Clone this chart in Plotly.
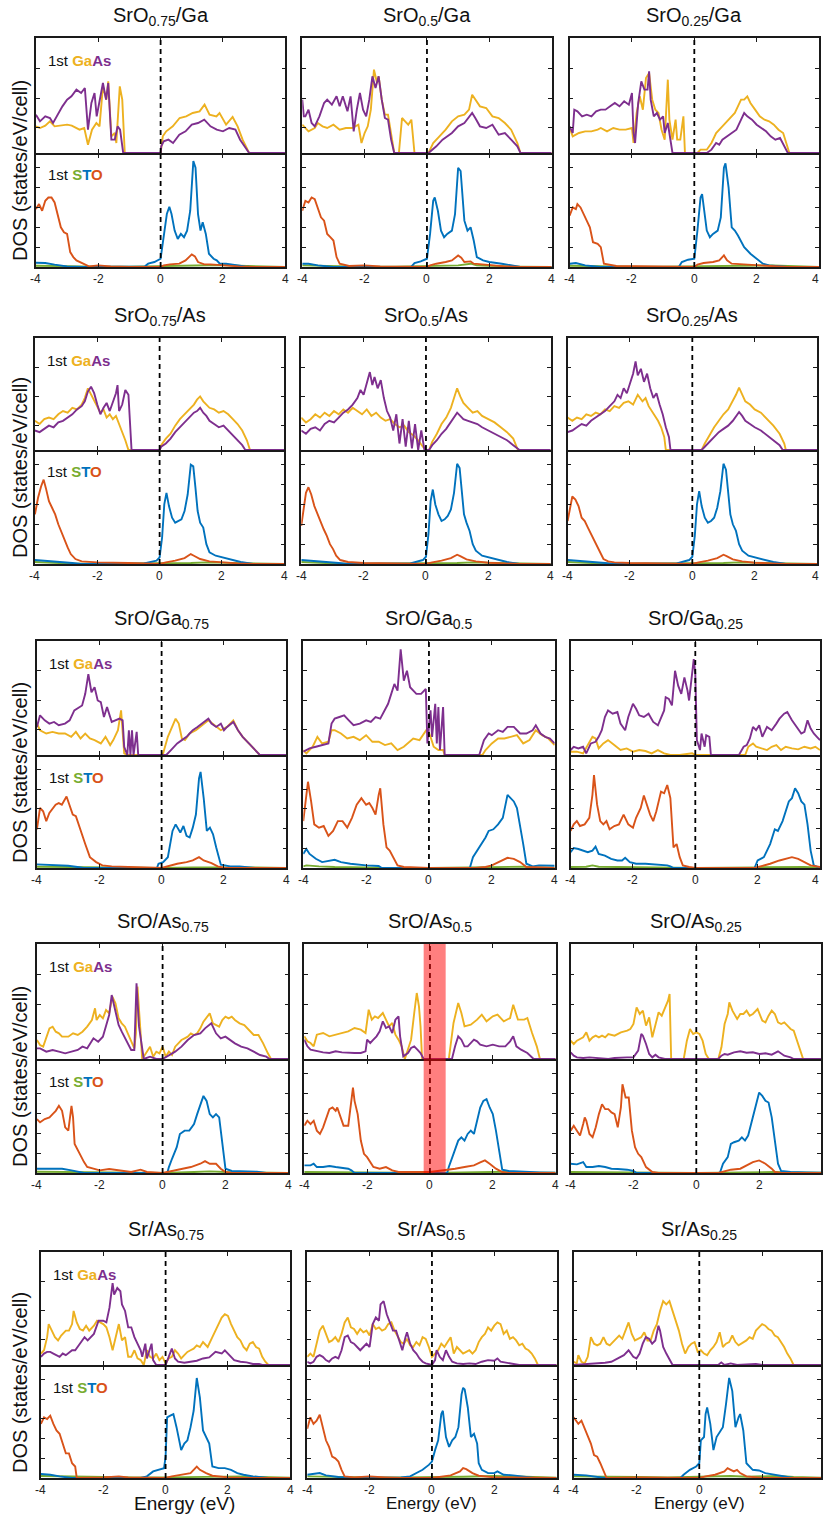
import plotly.graph_objects as go

# ---------------- DATA (energy in eV, DOS in arbitrary units) ----------------
R1C1_GA = [(-4,80),(-3.87,75),(-3.7,82),(-3.55,95),(-3.4,80),(-3.2,82),(-3.0,85),(-2.85,82),(-2.6,70),(-2.45,75),(-2.33,25),(-2.2,70),(-2.06,90),(-1.96,80),(-1.85,200),(-1.74,160),(-1.68,215),(-1.58,50),(-1.47,60),(-1.42,30),(-1.31,200),(-1.23,160),(-1.15,0),(0,0),(0.07,50),(0.18,65),(0.39,80),(0.61,105),(0.82,110),(1.03,120),(1.25,125),(1.41,145),(1.57,115),(1.79,110),(1.89,120),(2.1,85),(2.31,108),(2.47,80),(2.63,40),(2.84,0),(4,0)]
R1C1_AS = [(-4,115),(-3.87,95),(-3.7,110),(-3.55,105),(-3.45,90),(-3.3,115),(-3.15,140),(-3.0,160),(-2.86,170),(-2.7,190),(-2.55,180),(-2.43,195),(-2.33,70),(-2.22,150),(-2.12,180),(-2.05,110),(-1.95,160),(-1.85,210),(-1.75,160),(-1.68,210),(-1.58,40),(-1.47,40),(-1.38,80),(-1.3,70),(-1.2,0),(0,0),(0.02,20),(0.1,35),(0.25,40),(0.4,30),(0.6,55),(0.8,65),(1.0,85),(1.2,90),(1.4,100),(1.6,80),(1.8,70),(2.0,65),(2.2,75),(2.4,70),(2.55,40),(2.75,10),(2.84,0),(4,0)]
R1C1_O = [(-4,175),(-3.9,190),(-3.8,170),(-3.7,200),(-3.6,210),(-3.5,210),(-3.4,195),(-3.3,160),(-3.2,120),(-3.1,105),(-3.0,100),(-2.9,45),(-2.8,30),(-2.7,20),(-2.5,10),(-2.3,2),(-2.0,5),(-1.6,2),(-1.0,0),(0,0),(0.1,5),(0.3,8),(0.6,10),(0.8,20),(1.0,38),(1.1,32),(1.2,15),(1.4,8),(1.6,8),(2.0,5),(2.5,2),(3.0,0),(4,0)]
R1C1_T = [(-4,13),(-3.7,12),(-3.4,7),(-3.0,2),(-2.5,0),(-0.5,2),(-0.4,10),(-0.2,15),(0,25),(0.05,60),(0.1,100),(0.2,160),(0.28,182),(0.35,160),(0.45,110),(0.55,85),(0.65,100),(0.75,90),(0.85,110),(0.95,170),(1.05,320),(1.12,300),(1.2,160),(1.28,110),(1.35,135),(1.45,100),(1.55,40),(1.7,25),(1.8,20),(1.9,10),(2.1,10),(2.4,5),(2.7,2),(2.9,0),(4,0)]
R1C1_S = [(-4,4),(-3,2),(-2,1),(-1,1),(0,2),(0.5,3),(1,4),(1.5,5),(2,6),(2.5,4),(3,2),(4,0)]

R1C2_GA = [(-4,85),(-3.9,75),(-3.8,65),(-3.6,75),(-3.5,90),(-3.35,80),(-3.2,75),(-3.0,85),(-2.8,70),(-2.6,75),(-2.4,75),(-2.2,85),(-2.1,30),(-2.0,60),(-1.9,80),(-1.8,130),(-1.7,250),(-1.6,210),(-1.55,230),(-1.45,160),(-1.35,115),(-1.25,115),(-1.15,60),(-1.05,0),(-0.9,0),(-0.8,105),(-0.7,95),(-0.6,85),(-0.5,100),(-0.4,0),(0.05,0),(0.2,30),(0.4,50),(0.6,70),(0.8,95),(1.0,110),(1.2,115),(1.35,130),(1.45,175),(1.55,160),(1.7,140),(1.9,135),(2.1,110),(2.3,105),(2.5,90),(2.7,70),(2.9,30),(3.0,0),(4,0)]
R1C2_AS = [(-4,160),(-3.95,110),(-3.9,110),(-3.8,130),(-3.7,90),(-3.6,80),(-3.45,110),(-3.3,150),(-3.2,160),(-3.05,145),(-2.9,170),(-2.8,140),(-2.7,170),(-2.55,125),(-2.45,170),(-2.35,65),(-2.25,130),(-2.15,180),(-2.05,130),(-1.95,110),(-1.85,160),(-1.75,230),(-1.65,195),(-1.55,230),(-1.45,160),(-1.35,105),(-1.25,100),(-1.15,40),(-1.05,0),(0.05,0),(0.3,20),(0.5,40),(0.8,60),(1.0,80),(1.2,90),(1.35,110),(1.45,120),(1.55,105),(1.7,80),(1.9,75),(2.1,85),(2.3,55),(2.5,60),(2.7,40),(2.9,20),(3.0,0),(4,0)]
R1C2_O = [(-4,170),(-3.9,200),(-3.8,195),(-3.7,210),(-3.6,205),(-3.5,180),(-3.4,150),(-3.3,140),(-3.2,100),(-3.1,90),(-3.0,80),(-2.9,30),(-2.8,10),(-2.5,3),(-2.0,5),(-1.5,2),(0,0),(0.1,5),(0.3,10),(0.6,15),(0.8,20),(1.0,35),(1.1,28),(1.2,15),(1.4,17),(1.5,10),(2.0,5),(2.5,2),(3.0,0),(4,0)]
R1C2_T = [(-4,10),(-3.8,10),(-3.5,5),(-3.0,0),(-0.5,1),(-0.4,12),(-0.2,17),(0,25),(0.1,100),(0.2,200),(0.25,210),(0.35,170),(0.45,110),(0.55,90),(0.65,100),(0.8,110),(0.9,160),(1.0,300),(1.08,290),(1.2,140),(1.3,110),(1.4,120),(1.5,80),(1.6,30),(1.8,20),(2.0,15),(2.4,10),(2.8,3),(3.0,0),(4,0)]
R1C2_S = [(-4,5),(-3,2),(-2,1),(-1,1),(0,2),(0.5,3),(1,5),(1.4,10),(1.6,5),(2,4),(2.5,2),(3,1),(4,0)]

R1C3_GA = [(-4,75),(-3.9,50),(-3.7,60),(-3.5,65),(-3.3,65),(-3.1,70),(-3.0,75),(-2.8,65),(-2.6,75),(-2.4,70),(-2.2,70),(-2.0,75),(-1.95,30),(-1.85,120),(-1.75,170),(-1.65,130),(-1.55,225),(-1.45,240),(-1.35,160),(-1.25,130),(-1.15,120),(-1.05,70),(-0.95,40),(-0.85,220),(-0.8,100),(-0.7,40),(-0.6,100),(-0.55,40),(-0.45,40),(-0.35,110),(-0.3,0),(0.1,0),(0.2,10),(0.4,10),(0.55,30),(0.7,60),(0.9,80),(1.1,100),(1.3,120),(1.5,160),(1.6,160),(1.7,170),(1.8,150),(1.95,130),(2.1,110),(2.25,100),(2.4,95),(2.55,85),(2.7,70),(2.85,60),(3.0,20),(3.05,0),(4,0)]
R1C3_AS = [(-4,80),(-3.9,60),(-3.85,130),(-3.75,125),(-3.6,110),(-3.45,115),(-3.3,110),(-3.15,125),(-3.0,130),(-2.85,130),(-2.7,140),(-2.55,150),(-2.4,140),(-2.25,155),(-2.1,145),(-2.0,180),(-1.95,60),(-1.9,30),(-1.8,150),(-1.7,215),(-1.6,190),(-1.5,190),(-1.45,245),(-1.4,160),(-1.3,110),(-1.2,120),(-1.1,100),(-1.0,110),(-0.95,60),(-0.85,90),(-0.75,30),(-0.7,0),(0.4,0),(0.55,10),(0.7,30),(0.8,25),(0.9,40),(1.05,50),(1.2,60),(1.35,70),(1.5,100),(1.6,120),(1.7,110),(1.85,100),(2.0,85),(2.15,75),(2.3,65),(2.45,50),(2.6,40),(2.75,45),(2.9,20),(3.0,0),(4,0)]
R1C3_O = [(-4,155),(-3.9,180),(-3.8,175),(-3.75,190),(-3.65,180),(-3.55,160),(-3.45,140),(-3.35,120),(-3.25,75),(-3.1,70),(-3.0,60),(-2.9,10),(-2.5,3),(-2.0,2),(0,0),(0.1,7),(0.3,12),(0.6,15),(0.8,20),(0.95,35),(1.05,20),(1.2,10),(2.0,5),(3.0,0),(4,0)]
R1C3_T = [(-4,10),(-3.8,12),(-3.5,5),(-3.0,0),(-0.5,0),(-0.4,15),(-0.2,22),(0,25),(0.1,110),(0.2,210),(0.25,220),(0.3,180),(0.4,110),(0.5,90),(0.6,100),(0.75,110),(0.85,150),(0.95,300),(1.0,313),(1.1,240),(1.2,120),(1.3,110),(1.4,95),(1.6,60),(1.8,40),(2.0,25),(2.2,10),(2.4,5),(2.8,2),(3.0,0),(4,0)]
R1C3_S = [(-4,4),(-3,2),(-2,1),(-1,1),(0,2),(0.5,3),(1,4),(1.5,5),(2,6),(2.5,5),(3,3),(4,0)]

R2C1_GA = [(-4,90),(-3.85,80),(-3.7,95),(-3.55,100),(-3.4,95),(-3.25,110),(-3.1,120),(-2.95,115),(-2.8,130),(-2.65,125),(-2.5,140),(-2.4,160),(-2.3,190),(-2.2,170),(-2.1,150),(-2.0,130),(-1.9,115),(-1.8,125),(-1.7,100),(-1.6,110),(-1.5,95),(-1.4,105),(-1.3,80),(-1.2,60),(-1.1,30),(-1.0,0),(0,0),(0.05,15),(0.2,35),(0.35,50),(0.5,75),(0.65,95),(0.8,110),(0.95,125),(1.1,140),(1.2,155),(1.3,165),(1.4,150),(1.5,140),(1.6,130),(1.75,125),(1.9,115),(2.05,120),(2.2,110),(2.35,95),(2.5,80),(2.65,60),(2.8,30),(2.9,0),(4,0)]
R2C1_AS = [(-4,60),(-3.85,55),(-3.7,65),(-3.55,75),(-3.4,70),(-3.25,85),(-3.1,90),(-2.95,100),(-2.8,110),(-2.65,125),(-2.5,135),(-2.4,150),(-2.3,180),(-2.2,195),(-2.1,175),(-2.0,140),(-1.9,110),(-1.8,130),(-1.7,145),(-1.6,120),(-1.5,150),(-1.4,175),(-1.35,200),(-1.3,120),(-1.2,140),(-1.1,185),(-1.0,170),(-0.9,0),(0,0),(0.05,10),(0.2,20),(0.35,35),(0.5,55),(0.65,70),(0.8,85),(0.95,100),(1.1,115),(1.2,120),(1.3,130),(1.4,115),(1.5,105),(1.6,90),(1.75,80),(1.9,70),(2.05,75),(2.2,60),(2.35,45),(2.5,30),(2.65,15),(2.75,0),(4,0)]
R2C1_O = [(-4,150),(-3.9,200),(-3.8,235),(-3.72,255),(-3.65,230),(-3.55,190),(-3.45,170),(-3.35,150),(-3.25,120),(-3.15,95),(-3.05,70),(-2.95,50),(-2.85,30),(-2.7,15),(-2.5,8),(-2.0,5),(-1.0,3),(0,0),(0.2,5),(0.5,10),(0.8,18),(1.0,30),(1.1,25),(1.3,15),(1.6,8),(2.0,5),(2.5,2),(3,0),(4,0)]
R2C1_T = [(-4,12),(-3.6,10),(-3.2,6),(-2.8,3),(-2.5,0),(-0.5,2),(-0.3,6),(-0.1,10),(0,20),(0.08,80),(0.15,180),(0.22,215),(0.3,175),(0.4,140),(0.5,125),(0.6,130),(0.7,135),(0.8,160),(0.9,210),(1.0,300),(1.08,295),(1.15,230),(1.22,160),(1.3,125),(1.4,110),(1.5,60),(1.6,35),(1.8,25),(2.0,20),(2.3,12),(2.6,6),(3.0,0),(4,0)]
R2C1_S = [(-4,6),(-3.5,4),(-3,2),(-2,1),(0,1),(1,3),(1.5,5),(2,4),(3,2),(4,0)]

R2C2_GA = [(-4,100),(-3.85,85),(-3.7,95),(-3.55,110),(-3.4,100),(-3.25,115),(-3.1,105),(-2.95,120),(-2.8,110),(-2.65,125),(-2.5,115),(-2.35,130),(-2.2,120),(-2.05,110),(-1.9,125),(-1.75,105),(-1.6,115),(-1.45,100),(-1.3,90),(-1.15,95),(-1.0,80),(-0.85,70),(-0.7,75),(-0.55,55),(-0.4,45),(-0.25,30),(-0.1,10),(0.0,0),(0.1,0),(0.2,25),(0.35,50),(0.5,80),(0.65,100),(0.8,130),(0.9,160),(1.0,190),(1.1,165),(1.2,145),(1.35,130),(1.5,115),(1.65,120),(1.8,105),(2.0,95),(2.2,85),(2.4,70),(2.6,55),(2.8,35),(2.95,0),(4,0)]
R2C2_AS = [(-4,60),(-3.85,50),(-3.7,65),(-3.55,70),(-3.4,60),(-3.25,80),(-3.1,90),(-2.95,85),(-2.8,100),(-2.65,115),(-2.5,125),(-2.35,140),(-2.2,160),(-2.1,185),(-2.0,170),(-1.9,210),(-1.8,240),(-1.72,200),(-1.65,225),(-1.55,190),(-1.45,215),(-1.35,160),(-1.25,120),(-1.15,100),(-1.05,60),(-0.95,110),(-0.85,20),(-0.75,95),(-0.65,10),(-0.55,90),(-0.45,5),(-0.35,80),(-0.25,0),(-0.15,60),(-0.05,0),(0.1,0),(0.2,15),(0.35,30),(0.5,50),(0.65,65),(0.8,85),(0.9,100),(1.0,115),(1.1,105),(1.2,95),(1.35,90),(1.5,85),(1.65,80),(1.8,70),(2.0,60),(2.2,50),(2.4,40),(2.6,30),(2.8,15),(3.0,0),(4,0)]
R2C2_O = [(-4,115),(-3.9,180),(-3.85,215),(-3.77,232),(-3.68,210),(-3.58,175),(-3.48,150),(-3.38,125),(-3.28,105),(-3.18,85),(-3.08,60),(-2.98,45),(-2.88,25),(-2.75,12),(-2.5,6),(-2.0,3),(0,0),(0.2,5),(0.5,10),(0.8,18),(1.0,28),(1.1,24),(1.3,14),(1.6,8),(2.0,4),(2.5,2),(3,0),(4,0)]
R2C2_T = [(-4,12),(-3.6,10),(-3.2,6),(-2.8,3),(-2.5,0),(-0.5,2),(-0.3,6),(-0.1,12),(0,22),(0.08,90),(0.15,190),(0.22,225),(0.3,180),(0.4,150),(0.5,130),(0.6,135),(0.7,145),(0.8,165),(0.9,215),(1.0,303),(1.08,290),(1.15,220),(1.22,150),(1.3,125),(1.4,100),(1.5,60),(1.6,40),(1.8,25),(2.0,20),(2.3,12),(2.6,6),(3.0,0),(4,0)]
R2C2_S = [(-4,6),(-3.5,4),(-3,2),(-2,1),(0,1),(1,3),(1.5,5),(2,4),(3,2),(4,0)]

R2C3_GA = [(-4,100),(-3.85,90),(-3.7,100),(-3.55,95),(-3.4,110),(-3.25,105),(-3.1,115),(-2.95,110),(-2.8,125),(-2.65,120),(-2.5,135),(-2.35,130),(-2.2,145),(-2.05,150),(-1.9,140),(-1.75,170),(-1.6,150),(-1.5,160),(-1.4,135),(-1.3,120),(-1.2,105),(-1.1,90),(-1.0,70),(-0.9,40),(-0.85,0),(0.3,0),(0.4,20),(0.55,45),(0.7,70),(0.85,90),(1.0,110),(1.15,125),(1.3,150),(1.4,170),(1.5,192),(1.6,170),(1.7,150),(1.85,140),(2.0,125),(2.2,115),(2.4,95),(2.6,75),(2.8,50),(2.95,20),(3.0,0),(4,0)]
R2C3_AS = [(-4,55),(-3.85,60),(-3.7,70),(-3.55,80),(-3.4,75),(-3.25,90),(-3.1,100),(-2.95,110),(-2.8,120),(-2.65,135),(-2.5,150),(-2.4,170),(-2.3,160),(-2.2,190),(-2.1,175),(-2.0,205),(-1.9,235),(-1.82,273),(-1.75,230),(-1.65,250),(-1.55,210),(-1.45,235),(-1.35,190),(-1.25,160),(-1.15,175),(-1.05,140),(-0.95,110),(-0.85,70),(-0.75,40),(-0.7,0),(0.3,0),(0.4,10),(0.55,25),(0.7,40),(0.85,55),(1.0,65),(1.15,75),(1.3,90),(1.4,105),(1.5,117),(1.6,105),(1.7,90),(1.85,80),(2.0,70),(2.2,60),(2.4,45),(2.6,30),(2.8,15),(2.9,0),(4,0)]
R2C3_O = [(-4,130),(-3.9,185),(-3.85,204),(-3.75,195),(-3.65,175),(-3.55,140),(-3.45,130),(-3.35,110),(-3.25,90),(-3.15,70),(-3.05,50),(-2.95,30),(-2.85,15),(-2.7,8),(-2.5,5),(-2.0,3),(0,0),(0.2,5),(0.5,10),(0.8,18),(1.0,28),(1.1,24),(1.3,14),(1.6,8),(2.0,4),(2.5,2),(3,0),(4,0)]
R2C3_T = [(-4,12),(-3.6,10),(-3.2,6),(-2.8,3),(-2.5,0),(-0.5,2),(-0.3,6),(-0.1,12),(0,22),(0.08,85),(0.15,180),(0.22,220),(0.3,175),(0.4,140),(0.5,125),(0.6,130),(0.7,140),(0.8,170),(0.9,220),(1.0,303),(1.08,285),(1.15,215),(1.22,150),(1.3,120),(1.4,100),(1.5,60),(1.6,40),(1.8,25),(2.0,20),(2.3,12),(2.6,6),(3.0,0),(4,0)]
R2C3_S = [(-4,6),(-3.5,4),(-3,2),(-2,1),(0,1),(1,3),(1.5,5),(2,4),(3,2),(4,0)]

R3C1_GA = [(-4,95),(-3.9,75),(-3.7,65),(-3.5,70),(-3.3,65),(-3.1,65),(-2.9,55),(-2.75,70),(-2.6,50),(-2.45,65),(-2.3,50),(-2.15,45),(-1.95,35),(-1.8,55),(-1.65,30),(-1.55,45),(-1.4,75),(-1.3,135),(-1.2,5),(-1.1,0),(0,0),(0.05,5),(0.2,55),(0.35,85),(0.45,110),(0.55,95),(0.65,50),(0.75,45),(0.9,65),(1.1,75),(1.3,90),(1.5,105),(1.7,90),(1.9,75),(2.1,85),(2.3,105),(2.45,75),(2.6,55),(2.8,35),(3.0,15),(3.15,0),(4,0)]
R3C1_AS = [(-4,85),(-3.9,120),(-3.75,105),(-3.6,95),(-3.45,100),(-3.3,90),(-3.1,95),(-2.95,105),(-2.8,135),(-2.65,145),(-2.55,150),(-2.45,185),(-2.35,245),(-2.25,190),(-2.15,205),(-2.05,165),(-1.95,160),(-1.85,115),(-1.75,145),(-1.6,100),(-1.45,105),(-1.35,110),(-1.25,105),(-1.2,25),(-1.1,0),(-1.05,75),(-1.0,0),(-0.95,75),(-0.9,0),(-0.8,70),(-0.75,0),(0.15,0),(0.3,15),(0.5,35),(0.65,45),(0.8,55),(0.9,65),(1.0,75),(1.15,85),(1.3,95),(1.5,110),(1.6,95),(1.75,85),(1.9,95),(2.0,75),(2.1,85),(2.3,100),(2.45,75),(2.6,55),(2.8,35),(3.0,15),(3.15,0),(4,0)]
R3C1_O = [(-4,118),(-3.9,183),(-3.8,173),(-3.7,143),(-3.6,168),(-3.4,193),(-3.3,198),(-3.2,193),(-3.05,218),(-2.95,193),(-2.85,163),(-2.75,158),(-2.6,113),(-2.45,73),(-2.3,33),(-2.1,18),(-1.9,8),(-1.6,5),(0,0),(0.2,5),(0.5,13),(0.8,18),(1.0,23),(1.2,33),(1.35,23),(1.6,15),(1.8,5),(2.0,1),(4,0)]
R3C1_T = [(-4,11),(-3.5,10),(-3.0,7),(-2.7,3),(-2.5,0),(-0.15,0),(-0.1,13),(0.05,18),(0.2,33),(0.35,113),(0.45,133),(0.6,108),(0.7,128),(0.8,98),(0.9,93),(1.0,123),(1.1,163),(1.2,273),(1.25,293),(1.35,213),(1.45,113),(1.55,123),(1.65,103),(1.75,63),(1.9,10),(2.2,5),(2.5,5),(3.0,0),(4,0)]
R3C1_S = [(-4,4),(-3,3),(-2,1),(0,0),(1,2),(2,3),(3,2),(4,0)]

R3C2_GA = [(-4,15),(-3.9,5),(-3.7,25),(-3.55,55),(-3.4,35),(-3.2,40),(-3.1,75),(-3.0,75),(-2.8,65),(-2.6,50),(-2.4,55),(-2.2,45),(-2.0,60),(-1.8,40),(-1.6,40),(-1.4,30),(-1.2,35),(-1.0,15),(-0.8,25),(-0.6,40),(-0.5,50),(-0.3,45),(-0.15,65),(-0.05,80),(0.05,55),(0.15,25),(0.3,15),(0.45,15),(0.5,0),(1.7,0),(1.8,15),(2.0,35),(2.2,50),(2.4,50),(2.6,55),(2.8,60),(3.0,35),(3.2,45),(3.4,75),(3.6,60),(3.8,50),(4.0,30)]
R3C2_AS = [(-4,10),(-3.9,15),(-3.8,20),(-3.6,25),(-3.4,30),(-3.2,35),(-3.1,95),(-3.0,110),(-2.85,115),(-2.7,120),(-2.55,105),(-2.4,90),(-2.2,95),(-2.0,105),(-1.85,100),(-1.7,115),(-1.55,110),(-1.4,140),(-1.3,155),(-1.2,185),(-1.1,215),(-1.0,195),(-0.9,320),(-0.8,225),(-0.7,255),(-0.6,205),(-0.5,195),(-0.4,185),(-0.25,185),(-0.1,200),(-0.05,35),(0.05,135),(0.1,55),(0.2,155),(0.25,35),(0.3,145),(0.35,15),(0.45,145),(0.5,0),(1.6,0),(1.75,45),(1.9,65),(2.0,60),(2.2,75),(2.35,70),(2.5,85),(2.7,85),(2.9,65),(3.1,65),(3.3,75),(3.4,90),(3.55,65),(3.7,55),(3.85,50),(4.0,35)]
R3C2_O = [(-4,143),(-3.9,213),(-3.85,263),(-3.75,203),(-3.65,133),(-3.5,123),(-3.35,128),(-3.2,98),(-3.05,113),(-2.9,143),(-2.75,143),(-2.6,123),(-2.45,153),(-2.3,193),(-2.15,213),(-2.0,193),(-1.9,198),(-1.8,183),(-1.7,163),(-1.6,223),(-1.55,243),(-1.45,133),(-1.35,63),(-1.25,53),(-1.15,33),(-1.0,8),(-0.8,3),(0,0),(1.5,0),(1.8,3),(2.0,8),(2.2,18),(2.5,31),(2.7,28),(2.9,18),(3.1,3),(4.0,0)]
R3C2_T = [(-4,43),(-3.9,58),(-3.8,43),(-3.6,28),(-3.4,18),(-3.2,21),(-3.0,25),(-2.8,18),(-2.5,13),(-2.0,8),(-1.6,6),(-1.5,0),(1.3,0),(1.4,33),(1.6,63),(1.8,93),(1.9,113),(2.05,118),(2.2,133),(2.35,153),(2.5,223),(2.6,213),(2.7,203),(2.8,183),(2.9,133),(3.0,73),(3.1,13),(3.3,5),(3.5,8),(3.8,8),(4.0,7)]
R3C2_S = [(-4,5),(-3.9,8),(-3.5,5),(-3,3),(-2,2),(-1.5,0),(0,0),(2,2),(2.5,4),(3,4),(3.5,2),(4,1)]

R3C3_GA = [(-4,10),(-3.8,10),(-3.6,5),(-3.45,30),(-3.3,55),(-3.2,50),(-3.1,20),(-2.95,35),(-2.8,45),(-2.6,30),(-2.4,15),(-2.2,20),(-2.0,10),(-1.8,15),(-1.6,12),(-1.4,5),(-1.2,15),(-1.0,5),(-0.8,0),(-0.5,0),(-0.1,5),(0.0,0),(1.6,0),(1.7,25),(1.85,35),(1.95,25),(2.1,20),(2.3,15),(2.45,25),(2.6,30),(2.75,15),(2.9,25),(3.1,20),(3.3,17),(3.5,25),(3.7,20),(3.85,25),(4.0,15)]
R3C3_AS = [(-4,15),(-3.9,25),(-3.75,20),(-3.6,25),(-3.5,5),(-3.35,35),(-3.2,40),(-3.1,55),(-3.0,75),(-2.9,115),(-2.8,135),(-2.65,125),(-2.5,130),(-2.4,95),(-2.25,75),(-2.15,115),(-2.0,155),(-1.9,140),(-1.8,120),(-1.65,115),(-1.5,125),(-1.35,100),(-1.2,90),(-1.0,135),(-0.95,175),(-0.85,170),(-0.75,150),(-0.65,255),(-0.55,210),(-0.45,185),(-0.35,235),(-0.25,195),(-0.2,165),(-0.1,250),(-0.05,290),(0.0,245),(0.05,45),(0.15,15),(0.2,65),(0.3,25),(0.35,60),(0.45,55),(0.5,0),(1.4,0),(1.55,25),(1.65,30),(1.75,50),(1.85,85),(1.95,75),(2.05,90),(2.15,55),(2.3,85),(2.45,75),(2.6,95),(2.7,110),(2.85,125),(2.95,130),(3.1,105),(3.25,85),(3.4,65),(3.5,70),(3.6,105),(3.7,80),(3.8,65),(3.9,55),(4.0,45)]
R3C3_O = [(-4,113),(-3.9,133),(-3.8,143),(-3.7,128),(-3.55,133),(-3.4,153),(-3.3,223),(-3.25,283),(-3.15,193),(-3.05,143),(-2.95,133),(-2.85,143),(-2.75,118),(-2.6,128),(-2.45,133),(-2.3,163),(-2.15,133),(-2.0,123),(-1.9,153),(-1.75,183),(-1.65,221),(-1.55,193),(-1.45,163),(-1.35,143),(-1.25,173),(-1.1,233),(-1.0,228),(-0.9,253),(-0.8,213),(-0.7,63),(-0.6,73),(-0.5,33),(-0.4,8),(-0.2,3),(0,0),(1.9,0),(2.1,5),(2.4,13),(2.7,23),(2.9,28),(3.1,33),(3.3,28),(3.5,18),(3.7,8),(4.0,3)]
R3C3_T = [(-4,48),(-3.9,61),(-3.75,58),(-3.6,53),(-3.45,48),(-3.3,53),(-3.2,65),(-3.1,43),(-2.9,38),(-2.7,28),(-2.5,23),(-2.35,23),(-2.25,31),(-2.1,18),(-1.9,13),(-1.6,13),(-1.2,11),(-0.9,8),(-0.8,5),(-0.7,0),(1.9,0),(2.0,23),(2.2,33),(2.4,73),(2.55,118),(2.65,113),(2.8,143),(3.0,203),(3.1,213),(3.2,243),(3.3,228),(3.4,203),(3.5,193),(3.6,133),(3.7,53),(3.8,8),(4.0,0)]
R3C3_S = [(-4,3),(-3.5,4),(-3.3,8),(-3.1,4),(-2.5,3),(-2,2),(-1,1),(0,0),(2,2),(3,3),(3.5,3),(4,1)]

R4C1_GA = [(-4,57),(-3.9,42),(-3.8,37),(-3.7,67),(-3.6,92),(-3.5,97),(-3.4,82),(-3.3,77),(-3.2,67),(-3.0,67),(-2.85,77),(-2.7,72),(-2.55,82),(-2.4,97),(-2.25,117),(-2.15,152),(-2.1,117),(-2.0,132),(-1.9,122),(-1.8,147),(-1.7,137),(-1.6,187),(-1.5,167),(-1.4,122),(-1.3,107),(-1.2,97),(-1.1,77),(-1.0,57),(-0.9,32),(-0.85,77),(-0.8,217),(-0.7,77),(-0.65,0),(-0.5,22),(-0.4,37),(-0.3,7),(-0.2,22),(-0.1,17),(0.0,37),(0.1,7),(0.2,22),(0.3,12),(0.4,37),(0.5,47),(0.6,57),(0.7,62),(0.8,67),(0.9,77),(1.0,72),(1.1,77),(1.2,92),(1.3,112),(1.5,137),(1.6,107),(1.7,102),(1.8,97),(1.9,117),(2.0,127),(2.1,122),(2.2,127),(2.3,117),(2.45,107),(2.6,102),(2.75,87),(2.9,72),(3.05,72),(3.2,47),(3.35,17),(3.45,0),(4,0)]
R4C1_AS = [(-4,32),(-3.9,32),(-3.7,22),(-3.5,27),(-3.3,22),(-3.1,17),(-2.9,22),(-2.7,27),(-2.55,37),(-2.4,32),(-2.2,62),(-2.05,52),(-1.9,67),(-1.8,97),(-1.7,132),(-1.62,192),(-1.5,147),(-1.4,102),(-1.3,82),(-1.2,62),(-1.1,47),(-1.0,27),(-0.9,27),(-0.83,227),(-0.75,97),(-0.6,0),(-0.4,7),(-0.2,0),(0.0,0),(0.2,12),(0.4,22),(0.6,37),(0.8,57),(1.0,72),(1.2,77),(1.35,92),(1.55,107),(1.7,77),(1.85,62),(2.0,67),(2.15,57),(2.3,47),(2.5,37),(2.7,32),(2.9,22),(3.1,12),(3.3,7),(3.4,0),(4,0)]
R4C1_O = [(-4,163),(-3.9,153),(-3.75,163),(-3.6,168),(-3.5,178),(-3.4,188),(-3.3,203),(-3.2,188),(-3.1,138),(-3.0,128),(-2.9,203),(-2.85,168),(-2.8,88),(-2.7,68),(-2.6,53),(-2.5,33),(-2.4,18),(-2.2,13),(-2.0,8),(-1.7,12),(-1.4,8),(-1.0,3),(-0.7,10),(-0.5,3),(0,0),(0.3,6),(0.6,13),(0.9,18),(1.2,28),(1.35,36),(1.5,28),(1.7,28),(1.85,13),(2.0,3),(2.2,0),(4,0)]
R4C1_T = [(-4,13),(-3.5,12),(-3.2,13),(-2.9,8),(-2.6,3),(-2.5,0),(0.15,0),(0.2,18),(0.3,43),(0.45,78),(0.55,118),(0.7,128),(0.85,128),(1.0,148),(1.1,178),(1.2,208),(1.3,233),(1.4,218),(1.5,178),(1.6,168),(1.7,178),(1.8,168),(1.9,88),(2.0,13),(2.2,6),(2.5,5),(3.0,4),(3.3,0),(4,0)]
R4C1_S = [(-4,4),(-3,3),(-2,1),(0,0),(1,3),(1.5,5),(2,3),(3,2),(4,0)]

R4C2_GA = [(-4,68),(-3.9,53),(-3.8,48),(-3.7,38),(-3.6,73),(-3.4,78),(-3.2,68),(-3.0,73),(-2.8,78),(-2.6,83),(-2.4,93),(-2.2,88),(-2.05,78),(-1.95,148),(-1.85,118),(-1.75,128),(-1.65,123),(-1.5,138),(-1.4,118),(-1.3,98),(-1.2,108),(-1.1,73),(-1.0,58),(-0.9,38),(-0.8,0),(-0.6,58),(-0.5,138),(-0.42,198),(-0.35,158),(-0.3,98),(-0.25,0),(0.6,0),(0.75,108),(0.9,168),(1.0,138),(1.1,98),(1.3,103),(1.5,118),(1.65,133),(1.8,113),(2.0,128),(2.15,133),(2.35,113),(2.55,123),(2.65,163),(2.8,118),(3.0,118),(3.1,123),(3.25,78),(3.4,38),(3.5,0),(4,0)]
R4C2_AS = [(-4,58),(-3.9,38),(-3.8,28),(-3.6,23),(-3.4,20),(-3.2,18),(-3.0,23),(-2.8,20),(-2.6,18),(-2.4,18),(-2.2,18),(-2.05,23),(-2.0,58),(-1.9,48),(-1.8,58),(-1.7,68),(-1.6,83),(-1.5,113),(-1.4,93),(-1.3,98),(-1.2,78),(-1.1,118),(-1.0,128),(-0.95,68),(-0.85,8),(-0.7,18),(-0.6,33),(-0.5,38),(-0.4,28),(-0.3,18),(-0.2,0),(0.7,0),(0.8,38),(0.9,68),(1.0,58),(1.1,38),(1.2,38),(1.3,48),(1.4,58),(1.5,53),(1.6,43),(1.8,38),(2.0,43),(2.2,38),(2.4,38),(2.55,53),(2.65,68),(2.75,38),(2.9,28),(3.1,18),(3.2,8),(3.3,0),(4,0)]
R4C2_O = [(-4,143),(-3.9,158),(-3.8,148),(-3.7,158),(-3.6,128),(-3.5,118),(-3.4,138),(-3.3,168),(-3.2,193),(-3.1,198),(-3.0,188),(-2.95,198),(-2.85,168),(-2.75,143),(-2.6,143),(-2.5,218),(-2.45,258),(-2.4,218),(-2.3,178),(-2.2,98),(-2.1,58),(-2.0,48),(-1.9,33),(-1.8,18),(-1.6,13),(-1.4,18),(-1.2,8),(-1.0,3),(0,3),(0.5,8),(0.8,13),(1.1,18),(1.4,23),(1.6,32),(1.75,38),(1.9,28),(2.1,13),(2.3,3),(2.5,0),(4,0)]
R4C2_T = [(-4,23),(-3.8,23),(-3.7,28),(-3.6,18),(-3.4,18),(-3.2,21),(-3.0,18),(-2.8,16),(-2.6,13),(-2.5,8),(-2.4,0),(0.55,0),(0.6,18),(0.75,58),(0.9,98),(1.0,108),(1.1,98),(1.2,118),(1.3,128),(1.4,118),(1.5,158),(1.6,198),(1.7,218),(1.8,223),(1.9,198),(2.0,178),(2.1,128),(2.2,68),(2.3,10),(2.5,6),(3.0,3),(3.5,2),(4.0,1)]
R4C2_S = [(-4,3),(-3,3),(-2,2),(0,0),(1,2),(1.5,3),(2,4),(2.5,4),(3,2),(4,1)]

R4C3_GA = [(-4,55),(-3.9,45),(-3.8,55),(-3.7,60),(-3.6,65),(-3.5,80),(-3.4,55),(-3.3,65),(-3.2,70),(-3.1,65),(-3.0,70),(-2.9,65),(-2.8,75),(-2.6,70),(-2.4,80),(-2.2,85),(-2.1,90),(-2.0,105),(-1.9,155),(-1.8,135),(-1.7,145),(-1.6,100),(-1.5,125),(-1.4,65),(-1.3,105),(-1.2,140),(-1.1,130),(-1.0,155),(-0.9,175),(-0.85,195),(-0.8,0),(-0.4,0),(-0.3,55),(-0.2,90),(-0.1,75),(0.0,80),(0.1,75),(0.2,55),(0.3,15),(0.4,0),(0.7,0),(0.8,35),(0.9,105),(1.0,135),(1.05,170),(1.15,145),(1.3,120),(1.4,135),(1.5,135),(1.6,145),(1.7,130),(1.8,135),(1.95,150),(2.1,115),(2.2,110),(2.3,130),(2.4,145),(2.5,135),(2.6,110),(2.7,105),(2.8,110),(2.9,100),(3.0,90),(3.1,85),(3.2,55),(3.3,25),(3.4,0),(4,0)]
R4C3_AS = [(-4,20),(-3.9,10),(-3.8,5),(-3.6,3),(-3.4,5),(-3.2,3),(-3.0,2),(-2.8,0),(-2.6,3),(-2.4,5),(-2.2,5),(-2.0,5),(-1.85,25),(-1.75,75),(-1.7,70),(-1.6,45),(-1.5,15),(-1.4,5),(-1.3,13),(-1.2,5),(-1.0,0),(0.7,0),(0.8,10),(0.9,15),(1.0,13),(1.2,20),(1.4,23),(1.6,19),(1.8,20),(2.0,15),(2.2,17),(2.4,13),(2.6,23),(2.8,10),(3.0,5),(3.1,0),(4,0)]
R4C3_O = [(-4,128),(-3.9,143),(-3.8,128),(-3.7,113),(-3.6,148),(-3.55,168),(-3.5,158),(-3.4,118),(-3.3,108),(-3.2,138),(-3.1,178),(-3.0,208),(-2.9,193),(-2.8,193),(-2.7,183),(-2.6,178),(-2.5,138),(-2.4,198),(-2.35,268),(-2.25,228),(-2.15,228),(-2.05,128),(-1.95,78),(-1.85,58),(-1.75,48),(-1.6,18),(-1.4,3),(-1.2,0),(0.7,0),(0.9,6),(1.1,10),(1.4,13),(1.6,23),(1.8,33),(2.0,38),(2.2,28),(2.4,13),(2.5,3),(2.7,0),(4,0)]
R4C3_T = [(-4,28),(-3.8,26),(-3.6,33),(-3.5,18),(-3.3,18),(-3.1,21),(-2.9,18),(-2.7,13),(-2.5,12),(-2.2,10),(-2.0,6),(-1.9,0),(0.75,0),(0.85,28),(1.0,48),(1.1,88),(1.2,93),(1.35,98),(1.45,108),(1.55,98),(1.65,113),(1.8,168),(1.9,208),(2.0,243),(2.1,233),(2.2,218),(2.3,213),(2.4,168),(2.5,98),(2.6,28),(2.7,6),(3.0,3),(3.5,2),(4.0,1)]
R4C3_S = [(-4,3),(-3,3),(-2,2),(0,0),(1,2),(2,4),(2.5,3),(3,2),(4,1)]

R5C1_GA = [(-4,35),(-3.9,45),(-3.8,85),(-3.75,125),(-3.65,105),(-3.55,85),(-3.45,75),(-3.35,90),(-3.2,105),(-3.1,105),(-3.0,125),(-2.95,165),(-2.85,130),(-2.75,110),(-2.65,105),(-2.55,120),(-2.45,105),(-2.3,120),(-2.2,135),(-2.1,130),(-2.0,125),(-1.9,115),(-1.8,85),(-1.7,45),(-1.6,90),(-1.5,125),(-1.4,75),(-1.3,85),(-1.2,25),(-1.1,25),(-1.0,45),(-0.9,20),(-0.8,15),(-0.7,0),(-0.6,45),(-0.5,25),(-0.4,20),(-0.3,35),(-0.2,15),(-0.1,25),(0.0,5),(0.1,20),(0.2,25),(0.3,45),(0.4,35),(0.5,20),(0.6,30),(0.7,40),(0.8,45),(0.9,50),(1.0,60),(1.1,55),(1.2,70),(1.35,55),(1.5,85),(1.6,105),(1.7,125),(1.8,145),(1.9,155),(2.0,150),(2.1,125),(2.2,105),(2.3,85),(2.4,75),(2.5,55),(2.6,45),(2.7,65),(2.8,70),(2.9,55),(3.0,50),(3.1,25),(3.2,10),(3.3,0),(4,0)]
R5C1_AS = [(-4,25),(-3.9,35),(-3.8,40),(-3.7,40),(-3.6,35),(-3.5,30),(-3.4,25),(-3.3,35),(-3.2,30),(-3.0,45),(-2.9,45),(-2.75,65),(-2.6,85),(-2.5,75),(-2.4,85),(-2.3,95),(-2.15,135),(-2.0,135),(-1.9,130),(-1.8,175),(-1.7,250),(-1.65,215),(-1.55,235),(-1.45,225),(-1.4,185),(-1.3,165),(-1.2,115),(-1.1,115),(-1.0,85),(-0.9,65),(-0.8,45),(-0.75,25),(-0.65,65),(-0.6,20),(-0.5,55),(-0.45,65),(-0.4,15),(-0.3,0),(-0.1,0),(0.0,0),(0.1,25),(0.2,50),(0.3,20),(0.4,10),(0.6,7),(0.8,10),(1.0,13),(1.2,20),(1.4,23),(1.6,40),(1.8,35),(1.9,45),(2.0,35),(2.1,25),(2.2,15),(2.4,10),(2.6,8),(2.8,3),(3.0,3),(3.1,0),(4,0)]
R5C1_O = [(-4,165),(-3.9,185),(-3.8,180),(-3.7,190),(-3.6,165),(-3.5,145),(-3.4,135),(-3.3,105),(-3.2,75),(-3.1,75),(-3.0,45),(-2.9,35),(-2.85,0),(-2.0,2),(-1.5,5),(-1.2,2),(-0.5,0),(0,0),(0.2,5),(0.5,10),(0.8,15),(1.0,35),(1.1,25),(1.3,15),(1.5,7),(2.0,2),(2.5,0),(4,0)]
R5C1_T = [(-4,12),(-3.7,10),(-3.4,5),(-3.0,0),(-0.8,0),(-0.6,5),(-0.4,20),(-0.2,25),(-0.05,30),(0.0,65),(0.05,185),(0.15,190),(0.25,195),(0.35,155),(0.45,105),(0.5,85),(0.6,105),(0.7,115),(0.8,155),(0.9,205),(1.0,305),(1.1,245),(1.2,145),(1.3,125),(1.4,105),(1.5,35),(1.7,30),(1.9,30),(2.1,25),(2.3,15),(2.5,10),(2.8,5),(3.1,2),(3.3,0),(4,0)]
R5C1_S = [(-4,6),(-3,4),(-2,3),(-1,2),(0,2),(1,3),(2,5),(2.5,5),(3,3),(4,1)]

R5C2_GA = [(-4,25),(-3.9,35),(-3.8,25),(-3.7,65),(-3.6,105),(-3.5,120),(-3.4,95),(-3.3,70),(-3.2,75),(-3.1,85),(-3.0,70),(-2.9,95),(-2.8,130),(-2.7,145),(-2.6,115),(-2.5,110),(-2.4,95),(-2.3,110),(-2.2,100),(-2.1,105),(-2.0,90),(-1.9,125),(-1.8,110),(-1.7,115),(-1.6,105),(-1.5,110),(-1.4,125),(-1.3,130),(-1.2,105),(-1.1,85),(-1.0,70),(-0.9,65),(-0.8,80),(-0.7,60),(-0.6,55),(-0.5,70),(-0.4,60),(-0.3,85),(-0.2,80),(-0.1,55),(0.0,25),(0.1,35),(0.2,45),(0.3,65),(0.4,55),(0.5,70),(0.6,85),(0.7,35),(0.8,55),(0.9,45),(1.0,35),(1.1,40),(1.2,45),(1.3,35),(1.4,45),(1.5,70),(1.6,85),(1.7,95),(1.8,115),(1.9,105),(2.0,120),(2.1,130),(2.2,125),(2.3,95),(2.4,105),(2.5,80),(2.6,85),(2.7,75),(2.8,60),(2.9,65),(3.0,50),(3.1,45),(3.2,35),(3.3,20),(3.4,0),(4,0)]
R5C2_AS = [(-4,10),(-3.9,5),(-3.8,10),(-3.7,25),(-3.6,30),(-3.5,25),(-3.4,15),(-3.3,10),(-3.2,20),(-3.1,25),(-3.0,20),(-2.9,45),(-2.8,85),(-2.7,90),(-2.6,70),(-2.5,65),(-2.4,55),(-2.3,45),(-2.2,55),(-2.1,65),(-2.0,55),(-1.9,125),(-1.8,145),(-1.7,135),(-1.65,185),(-1.55,195),(-1.45,155),(-1.35,130),(-1.25,105),(-1.15,105),(-1.05,75),(-0.95,45),(-0.85,85),(-0.8,100),(-0.7,65),(-0.6,45),(-0.5,35),(-0.4,20),(-0.3,10),(-0.2,5),(0.0,0),(0.1,15),(0.15,45),(0.25,25),(0.35,15),(0.45,45),(0.55,25),(0.65,10),(0.8,5),(1.0,3),(1.2,5),(1.4,3),(1.6,10),(1.8,15),(2.0,13),(2.1,20),(2.2,10),(2.4,7),(2.6,5),(2.8,0),(4,0)]
R5C2_O = [(-4,150),(-3.9,185),(-3.8,165),(-3.7,175),(-3.6,193),(-3.5,155),(-3.4,115),(-3.3,95),(-3.2,65),(-3.1,60),(-3.0,50),(-2.9,25),(-2.8,5),(-2.5,2),(-2.0,5),(-1.5,2),(-1.0,0),(0,0),(0.3,5),(0.6,8),(0.9,20),(1.0,30),(1.1,27),(1.3,15),(1.5,7),(2.0,2),(4,0)]
R5C2_T = [(-4,10),(-3.8,12),(-3.6,15),(-3.4,8),(-3.0,3),(-2.5,0),(-1.5,0),(-1.0,2),(-0.7,5),(-0.5,15),(-0.3,25),(-0.1,40),(0.0,50),(0.1,85),(0.2,115),(0.3,195),(0.35,205),(0.45,125),(0.55,95),(0.65,115),(0.75,125),(0.85,155),(0.95,255),(1.0,275),(1.05,270),(1.15,215),(1.25,125),(1.35,135),(1.45,105),(1.5,45),(1.6,25),(1.8,15),(2.0,15),(2.1,20),(2.3,10),(2.6,8),(3.0,3),(3.3,0),(4,0)]
R5C2_S = [(-4,5),(-3,3),(-2,2),(-1,2),(0,2),(1,4),(2,6),(2.5,6),(3,4),(4,1)]

R5C3_GA = [(-4,10),(-3.9,5),(-3.85,30),(-3.75,10),(-3.65,5),(-3.55,25),(-3.45,85),(-3.35,65),(-3.25,60),(-3.15,65),(-3.05,85),(-2.95,65),(-2.85,60),(-2.75,70),(-2.65,80),(-2.55,90),(-2.45,80),(-2.35,105),(-2.25,130),(-2.15,95),(-2.05,75),(-1.95,80),(-1.85,85),(-1.75,100),(-1.65,75),(-1.55,75),(-1.45,105),(-1.35,125),(-1.25,165),(-1.15,195),(-1.05,185),(-0.95,195),(-0.85,165),(-0.75,135),(-0.65,105),(-0.55,65),(-0.45,35),(-0.35,55),(-0.25,65),(-0.15,70),(-0.05,40),(0.05,45),(0.15,35),(0.25,30),(0.35,45),(0.45,55),(0.55,70),(0.65,100),(0.75,55),(0.85,65),(0.95,70),(1.05,90),(1.15,70),(1.25,60),(1.35,65),(1.5,75),(1.6,85),(1.7,80),(1.8,105),(1.9,115),(2.0,125),(2.1,120),(2.2,110),(2.3,105),(2.4,90),(2.5,85),(2.6,70),(2.7,55),(2.8,35),(2.9,20),(3.0,0),(4,0)]
R5C3_AS = [(-4,0),(-3.4,3),(-3.2,5),(-3.0,7),(-2.8,10),(-2.6,20),(-2.4,30),(-2.25,45),(-2.1,25),(-2.0,20),(-1.9,35),(-1.8,65),(-1.7,85),(-1.6,80),(-1.5,65),(-1.4,75),(-1.3,120),(-1.25,105),(-1.15,55),(-1.05,35),(-0.95,15),(-0.85,0),(0.6,0),(0.7,8),(0.8,0),(1.0,5),(1.2,0),(1.8,3),(2.0,0),(4,0)]
R5C3_O = [(-4,185),(-3.9,170),(-3.85,165),(-3.75,175),(-3.65,150),(-3.55,125),(-3.45,105),(-3.35,70),(-3.25,65),(-3.15,45),(-3.05,25),(-2.95,0),(-2.0,2),(-1.0,0),(0,0),(0.2,5),(0.5,10),(0.8,20),(0.9,30),(1.0,25),(1.1,20),(1.2,25),(1.3,15),(1.5,5),(2.0,0),(4,0)]
R5C3_T = [(-4,10),(-3.6,8),(-3.0,0),(-0.6,0),(-0.5,10),(-0.3,25),(-0.1,35),(0.0,45),(0.05,115),(0.15,125),(0.2,195),(0.25,215),(0.35,165),(0.45,85),(0.55,125),(0.65,140),(0.75,155),(0.85,225),(0.95,305),(1.05,265),(1.15,155),(1.25,185),(1.3,195),(1.4,145),(1.5,45),(1.7,25),(1.9,23),(2.1,15),(2.4,10),(2.7,5),(3.0,0),(4,0)]
R5C3_S = [(-4,5),(-3,3),(-2,3),(-1,2),(0,3),(1,6),(1.5,4),(2,5),(2.5,6),(3,3),(4,1)]

TITLES = [
    ["SrO<sub>0.75</sub>/Ga", "SrO<sub>0.5</sub>/Ga", "SrO<sub>0.25</sub>/Ga"],
    ["SrO<sub>0.75</sub>/As", "SrO<sub>0.5</sub>/As", "SrO<sub>0.25</sub>/As"],
    ["SrO/Ga<sub>0.75</sub>", "SrO/Ga<sub>0.5</sub>", "SrO/Ga<sub>0.25</sub>"],
    ["SrO/As<sub>0.75</sub>", "SrO/As<sub>0.5</sub>", "SrO/As<sub>0.25</sub>"],
    ["Sr/As<sub>0.75</sub>", "Sr/As<sub>0.5</sub>", "Sr/As<sub>0.25</sub>"],
]
PANELS = [
    [(R1C1_GA, R1C1_AS, R1C1_S, R1C1_T, R1C1_O), (R1C2_GA, R1C2_AS, R1C2_S, R1C2_T, R1C2_O), (R1C3_GA, R1C3_AS, R1C3_S, R1C3_T, R1C3_O)],
    [(R2C1_GA, R2C1_AS, R2C1_S, R2C1_T, R2C1_O), (R2C2_GA, R2C2_AS, R2C2_S, R2C2_T, R2C2_O), (R2C3_GA, R2C3_AS, R2C3_S, R2C3_T, R2C3_O)],
    [(R3C1_GA, R3C1_AS, R3C1_S, R3C1_T, R3C1_O), (R3C2_GA, R3C2_AS, R3C2_S, R3C2_T, R3C2_O), (R3C3_GA, R3C3_AS, R3C3_S, R3C3_T, R3C3_O)],
    [(R4C1_GA, R4C1_AS, R4C1_S, R4C1_T, R4C1_O), (R4C2_GA, R4C2_AS, R4C2_S, R4C2_T, R4C2_O), (R4C3_GA, R4C3_AS, R4C3_S, R4C3_T, R4C3_O)],
    [(R5C1_GA, R5C1_AS, R5C1_S, R5C1_T, R5C1_O), (R5C2_GA, R5C2_AS, R5C2_S, R5C2_T, R5C2_O), (R5C3_GA, R5C3_AS, R5C3_S, R5C3_T, R5C3_O)],
]
HIGHLIGHT = (3, 1, -0.2, 0.5)   # row, col, E_min, E_max of the red band
X_TICKS = [-4, -2, 0, 2, 4]
X_TICKTEXT = ["-4", "-2", "0", "2", "4"]
TOP_TICKS = [77, 165, 255]
BOT_TICKS = [60, 120, 180, 240, 300]
TOP_MAX, BOT_MAX = 345, 340

# ---------------- STYLE / LAYOUT ----------------
W, H = 823, 1516
C_GA, C_AS, C_S, C_T, C_O = "#EDB120", "#7E2F8E", "#77AC30", "#0072BD", "#D95319"
FONT = "Liberation Sans, Arial, Helvetica, sans-serif"
FRAME = "#1a1a1a"
LW = 1.5
ROW_Y = [(38, 153, 267), (338, 450, 564), (641, 755, 868), (944, 1059, 1173), (1252, 1365, 1478)]
COL_X = [[(36, 161), (303, 428), (571, 696)],
         [(35, 160), (302, 427), (569, 694)],
         [(37, 162), (304, 430), (572, 697)],
         [(37, 163), (305, 431), (572, 698)],
         [(41, 166), (308, 433), (575, 701)]]
XLABEL_POS = [(185, 19), (433, 17), (701, 17)]   # (x centre px, font size) of the "Energy (eV)" labels

fig = go.Figure()
lay = {}
shapes = []
ann = []

def nm(i):
    return "" if i == 1 else str(i)

def add_curve(data, color, i):
    xs = [p[0] for p in data]
    ys = [p[1] for p in data]
    fig.add_trace(go.Scatter(x=xs, y=ys, mode="lines", line=dict(color=color, width=1.9),
                             xaxis="x" + nm(i), yaxis="y" + nm(i), showlegend=False, hoverinfo="skip"))

for r in range(5):
    top, div, bot = ROW_Y[r]
    for c in range(3):
        p = r * 3 + c
        it, ib = 2 * p + 1, 2 * p + 2
        xl, x0 = COL_X[r][c]
        sc = (x0 - xl) / 4.0
        xr = min(x0 + 4 * sc, W)
        xmax = (xr - x0) / sc
        xdom = [xl / W, xr / W]
        ga, as_, s, t, o = PANELS[r][c]
        add_curve(ga, C_GA, it)
        add_curve(as_, C_AS, it)
        add_curve(s, C_S, ib)
        add_curve(t, C_T, ib)
        add_curve(o, C_O, ib)
        for i, yd, ymax, ytv in ((it, [1 - div / H, 1 - top / H], TOP_MAX, TOP_TICKS),
                                 (ib, [1 - bot / H, 1 - (div + LW) / H], BOT_MAX, BOT_TICKS)):
            lay["xaxis" + nm(i)] = dict(domain=xdom, anchor="y" + nm(i), range=[-4, xmax],
                                        tickvals=X_TICKS, ticks="inside", ticklen=4,
                                        tickwidth=1, tickcolor=FRAME, showline=True, linecolor=FRAME,
                                        linewidth=LW, mirror="ticks", showgrid=False, zeroline=False,
                                        showticklabels=False)
            lay["yaxis" + nm(i)] = dict(domain=yd, anchor="x" + nm(i), range=[0, ymax], tickvals=ytv,
                                        ticks="inside", ticklen=4, tickwidth=1, tickcolor=FRAME,
                                        showline=True, linecolor=FRAME, linewidth=LW, mirror="ticks",
                                        showgrid=False, zeroline=False, showticklabels=False)
            shapes.append(dict(type="line", xref="x" + nm(i), yref="y" + nm(i) + " domain", x0=0, x1=0,
                               y0=0, y1=1, line=dict(color="black", width=1.8, dash="5px,4px")))
        # x tick labels (under the lower subplot)
        for tv, tt in zip(X_TICKS, X_TICKTEXT):
            if tv > xmax + 1e-6:
                continue
            px = x0 + tv * sc
            anchor = "center"
            if px + 5 > W:
                anchor, px = "right", W
            ann.append(dict(text=tt, x=px / W, y=1 - (bot + 12) / H, xref="paper", yref="paper",
                            xanchor=anchor, yanchor="middle", showarrow=False,
                            font=dict(family=FONT, size=12, color="#222")))
        ann.append(dict(text=TITLES[r][c], x=x0 / W, y=1 - (top - 7) / H, xref="paper", yref="paper",
                        xanchor="center", yanchor="bottom", showarrow=False,
                        font=dict(family=FONT, size=20, color="#111")))
        if (r, c) == HIGHLIGHT[:2]:
            shapes.append(dict(type="rect", xref="x" + nm(it), yref="paper", x0=HIGHLIGHT[2], x1=HIGHLIGHT[3],
                               y0=1 - bot / H, y1=1 - top / H, fillcolor="rgba(255,0,0,0.5)",
                               line=dict(width=0), layer="above"))
        if c == 0:
            ann.append(dict(text="1st <b><span style='color:%s'>Ga</span><span style='color:%s'>As</span></b>" % (C_GA, C_AS),
                            x=(xl + 10) / W, y=1 - (top + 22) / H, xref="paper", yref="paper",
                            xanchor="left", yanchor="middle", showarrow=False,
                            font=dict(family=FONT, size=15, color="#111")))
            ann.append(dict(text="1st <b><span style='color:%s'>S</span><span style='color:%s'>T</span><span style='color:%s'>O</span></b>" % (C_S, C_T, C_O),
                            x=(xl + 10) / W, y=1 - (div + 22) / H, xref="paper", yref="paper",
                            xanchor="left", yanchor="middle", showarrow=False,
                            font=dict(family=FONT, size=15, color="#111")))
            ann.append(dict(text="DOS (states/eV/cell)", x=20 / W, y=1 - (div + 17) / H, xref="paper", yref="paper",
                            xanchor="center", yanchor="middle", textangle=-90, showarrow=False,
                            font=dict(family=FONT, size=20, color="#111")))
        if r == 4:
            lx, lfs = XLABEL_POS[c]
            ann.append(dict(text="Energy (eV)", x=lx / W, y=1 - 1503 / H, xref="paper", yref="paper",
                            xanchor="center", yanchor="middle", showarrow=False,
                            font=dict(family=FONT, size=lfs, color="#111")))

fig.update_layout(width=W, height=H, autosize=False, margin=dict(l=0, r=0, t=0, b=0),
                  paper_bgcolor="white", plot_bgcolor="white", shapes=shapes, annotations=ann,
                  showlegend=False, **lay)
fig.write_html("out.html", config={"displayModeBar": False},
               post_script="document.body.style.margin='0';document.body.style.overflow='hidden';")
